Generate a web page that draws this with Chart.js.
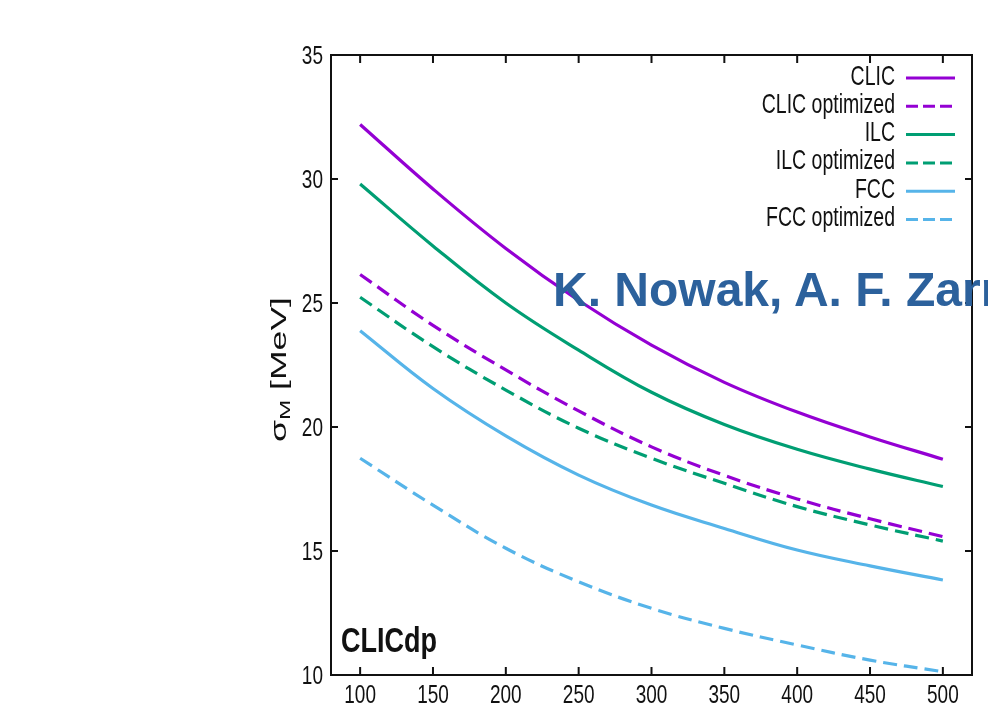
<!DOCTYPE html>
<html>
<head>
<meta charset="utf-8">
<script src="https://cdn.jsdelivr.net/npm/chart.js@4"></script>
<style>
  html, body { margin: 0; padding: 0; background: #fff; overflow: hidden; }
  #wrap { position: relative; width: 988px; height: 722px; overflow: hidden; }
  #author {
    position: absolute; left: 553px; top: 266px;
    font: bold 48px "Liberation Sans", Arial, sans-serif; line-height: 1;
    color: #2c619c; white-space: nowrap;
  }
</style>
</head>
<body>
<div id="wrap">
  <canvas id="chart" width="988" height="722"></canvas>
  <div id="author">K. Nowak, A. F. Zarnecki</div>
</div>
<script>
// energies [GeV] and resolutions [MeV]
const xValues = [100, 150, 200, 250, 300, 350, 400, 450, 500];
const clic    = [32.2, 29.6, 27.2, 25.1, 23.3, 21.8, 20.6, 19.6, 18.7];
const clicOpt = [26.15, 24.1, 22.3, 20.65, 19.2, 18.05, 17.1, 16.3, 15.58];
const ilc     = [29.8, 27.3, 25.0, 23.1, 21.4, 20.1, 19.1, 18.3, 17.6];
const ilcOpt  = [25.23, 23.24, 21.49, 19.95, 18.74, 17.73, 16.79, 16.05, 15.4];
const fcc     = [23.88, 21.55, 19.64, 18.06, 16.85, 15.91, 15.04, 14.4, 13.83];
const fccOpt  = [18.74, 16.85, 15.11, 13.76, 12.69, 11.88, 11.21, 10.6, 10.13];

const xTicks = [100, 150, 200, 250, 300, 350, 400, 450, 500];
const yTicks = [10, 15, 20, 25, 30, 35];

const FONT = '"Liberation Sans", Arial, sans-serif';
const STRETCH = 1.4; // text in the picture is squeezed sideways

const pts = arr => arr.map((v, i) => ({ x: xValues[i], y: v }));

function series(label, data, color, dashed) {
  return {
    label: label,
    data: pts(data),
    borderColor: color,
    borderWidth: 3.2,
    borderDash: dashed ? [14, 7] : [],
    pointRadius: 0,
    tension: 0.4,
    fill: false
  };
}

function stretchedText(ctx, text, x, y, font, align, sy) {
  ctx.save();
  ctx.font = font;
  ctx.textAlign = align;
  ctx.textBaseline = 'alphabetic';
  ctx.translate(x, y);
  ctx.scale(1, sy);
  ctx.fillText(text, 0, 0);
  ctx.restore();
}

// gnuplot style frame: box, inward ticks, labels, legend, y title
const framePlugin = {
  id: 'frame',
  afterDraw(chart) {
    const ctx = chart.ctx;
    const a = chart.chartArea;
    const sx = chart.scales.x, sy = chart.scales.y;
    ctx.save();
    ctx.strokeStyle = '#111';
    ctx.fillStyle = '#111';
    ctx.lineWidth = 2;
    ctx.strokeRect(a.left, a.top, a.right - a.left, a.bottom - a.top);

    ctx.beginPath();
    sx.ticks.forEach(t => {
      const px = sx.getPixelForValue(t.value);
      ctx.moveTo(px, a.bottom); ctx.lineTo(px, a.bottom - 8);
      ctx.moveTo(px, a.top); ctx.lineTo(px, a.top + 8);
    });
    sy.ticks.forEach(t => {
      const py = sy.getPixelForValue(t.value);
      ctx.moveTo(a.left, py); ctx.lineTo(a.left + 7, py);
      ctx.moveTo(a.right, py); ctx.lineTo(a.right - 7, py);
    });
    ctx.stroke();

    sx.ticks.forEach(t => {
      const px = sx.getPixelForValue(t.value);
      stretchedText(ctx, String(t.value), px, a.bottom + 28, '19px ' + FONT, 'center', STRETCH);
    });
    sy.ticks.forEach(t => {
      const py = sy.getPixelForValue(t.value);
      stretchedText(ctx, String(t.value), a.left - 8, py + 9, '19px ' + FONT, 'right', STRETCH);
    });

    // legend, text on the left of the sample
    chart.data.datasets.forEach((ds, i) => {
      const ry = a.top + 23 + i * 28.3;
      ctx.fillStyle = '#111';
      stretchedText(ctx, ds.label, a.right - 77, ry + 6.5, '19.5px ' + FONT, 'right', STRETCH);
      ctx.save();
      ctx.strokeStyle = ds.borderColor;
      ctx.lineWidth = 3;
      ctx.setLineDash(ds.borderDash.length ? [12, 5] : []);
      ctx.beginPath();
      ctx.moveTo(a.right - 66, ry);
      ctx.lineTo(a.right - 17, ry);
      ctx.stroke();
      ctx.restore();
    });

    // CLICdp tag
    stretchedText(ctx, 'CLICdp', a.left + 10, a.bottom - 23, 'bold 27px ' + FONT, 'left', 1.3);

    // y axis title: sigma_M [MeV]
    ctx.save();
    ctx.translate(280, 369.5);
    ctx.rotate(-Math.PI / 2);
    const big = '22px ' + FONT, small = '15px ' + FONT;
    ctx.font = big; const w1 = ctx.measureText('σ').width;
    ctx.font = small; const w2 = ctx.measureText('M').width;
    ctx.font = big; const w3 = ctx.measureText(' [MeV]').width;
    const total = w1 + w2 + w3;
    ctx.scale(145 / total, 1);
    let cx = -total / 2;
    ctx.textBaseline = 'alphabetic';
    ctx.textAlign = 'left';
    ctx.font = big; ctx.fillText('σ', cx, 6); cx += w1;
    ctx.font = small; ctx.fillText('M', cx, 10); cx += w2;
    ctx.font = big; ctx.fillText(' [MeV]', cx, 6);
    ctx.restore();

    ctx.restore();
  }
};

new Chart(document.getElementById('chart'), {
  type: 'line',
  data: {
    datasets: [
      series('CLIC', clic, '#9400d3', false),
      series('CLIC optimized', clicOpt, '#9400d3', true),
      series('ILC', ilc, '#009e73', false),
      series('ILC optimized', ilcOpt, '#009e73', true),
      series('FCC', fcc, '#56b4e9', false),
      series('FCC optimized', fccOpt, '#56b4e9', true)
    ]
  },
  options: {
    responsive: false,
    animation: false,
    layout: { padding: { top: 55, right: 16, left: 0, bottom: 0 } },
    plugins: { legend: { display: false }, tooltip: { enabled: false } },
    scales: {
      x: {
        type: 'linear', min: 80, max: 520,
        grid: { display: false }, border: { display: false },
        ticks: { display: false },
        afterBuildTicks: s => { s.ticks = xTicks.map(v => ({ value: v })); },
        afterFit: s => { s.height = 47; }
      },
      y: {
        type: 'linear', min: 10, max: 35,
        grid: { display: false }, border: { display: false },
        ticks: { display: false },
        afterBuildTicks: s => { s.ticks = yTicks.map(v => ({ value: v })); },
        afterFit: s => { s.width = 331; }
      }
    }
  },
  plugins: [framePlugin]
});
</script>
</body>
</html>
